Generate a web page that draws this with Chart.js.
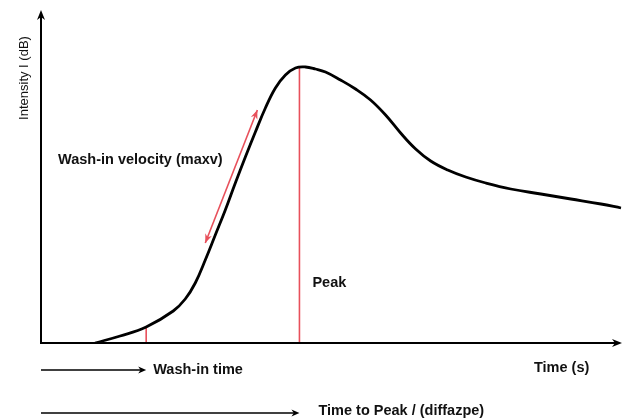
<!DOCTYPE html>
<html>
<head>
<meta charset="utf-8">
<script src="https://cdn.jsdelivr.net/npm/chart.js@4/dist/chart.umd.min.js"></script>
<style>
  html, body { margin: 0; padding: 0; background: #fff; }
  #wrap { width: 623px; height: 420px; }
</style>
</head>
<body>
<div id="wrap"><canvas id="curveChart"></canvas></div>
<script>
  // time-intensity curve (time in s, intensity in dB)
  const curveTime = [5.4, 7.9, 10.5, 13.2, 14.4, 15.4, 16.4, 17.4, 18.4, 19.4, 20.4, 21.4, 22.4, 23.4, 24.4, 25.4, 26.4, 27.4, 28.4, 29.9, 31.4, 32.9, 34.4, 35.9, 37.4, 38.9, 40.6, 42.4, 44.4, 46.9, 49.9, 52.9, 55.9, 57.9];
  const curveIntensity = [0, 0.7, 1.6, 3.2, 4.4, 6.0, 8.3, 10.8, 13.3, 16.0, 18.6, 21.1, 23.5, 25.5, 26.8, 27.5, 27.6, 27.4, 27.1, 26.3, 25.4, 24.3, 22.8, 21.0, 19.4, 18.2, 17.3, 16.6, 16.0, 15.4, 14.9, 14.4, 13.9, 13.5];

  const washInTime = 10.5;
  const washInIntensity = 1.6;
  const peakTime = 25.8;
  const peakIntensity = 27.6;
  const velocityTime = [16.4, 21.6];
  const velocityIntensity = [10.0, 23.3];

  const timeMax = 58;
  const intensityMax = 33.3;

  const RED = '#e8505b';
  const FONT = '"Liberation Sans", Arial, sans-serif';

  function pts(xs, ys) {
    return xs.map((x, i) => ({ x: x, y: ys[i] }));
  }

  function arrowHead(ctx, x1, y1, x2, y2, len, half, color) {
    const a = Math.atan2(y2 - y1, x2 - x1);
    ctx.save();
    ctx.fillStyle = color;
    ctx.translate(x2, y2);
    ctx.rotate(a);
    ctx.beginPath();
    ctx.moveTo(0, 0);
    ctx.lineTo(-len, -half);
    ctx.lineTo(-len * 0.7, 0);
    ctx.lineTo(-len, half);
    ctx.closePath();
    ctx.fill();
    ctx.restore();
  }

  function line(ctx, x1, y1, x2, y2, w, color) {
    ctx.save();
    ctx.strokeStyle = color;
    ctx.lineWidth = w;
    ctx.beginPath();
    ctx.moveTo(x1, y1);
    ctx.lineTo(x2, y2);
    ctx.stroke();
    ctx.restore();
  }

  const decorations = {
    id: 'decorations',
    afterDatasetsDraw(chart) {
      const ctx = chart.ctx;
      const xs = chart.scales.x;
      const ys = chart.scales.y;
      const x0 = xs.getPixelForValue(0);
      const y0 = ys.getPixelForValue(0);
      const xEnd = xs.getPixelForValue(timeMax);
      const yTop = ys.getPixelForValue(intensityMax);

      // axes with arrow heads
      line(ctx, x0, y0, x0, yTop + 4, 2, '#000');
      arrowHead(ctx, x0, y0, x0, yTop, 10, 4, '#000');
      line(ctx, x0 - 1, y0, xEnd - 4, y0, 2, '#000');
      arrowHead(ctx, x0, y0, xEnd, y0, 10, 4, '#000');

      // velocity double arrow
      const vx1 = xs.getPixelForValue(velocityTime[0]);
      const vy1 = ys.getPixelForValue(velocityIntensity[0]);
      const vx2 = xs.getPixelForValue(velocityTime[1]);
      const vy2 = ys.getPixelForValue(velocityIntensity[1]);
      arrowHead(ctx, vx1, vy1, vx2, vy2, 9, 3.5, RED);
      arrowHead(ctx, vx2, vy2, vx1, vy1, 9, 3.5, RED);

      // time arrows below the axis
      const wx = xs.getPixelForValue(washInTime);
      const px = xs.getPixelForValue(peakTime);
      const ay1 = y0 + 27;
      const ay2 = y0 + 70;
      line(ctx, x0, ay1, wx - 4, ay1, 1.5, '#000');
      arrowHead(ctx, x0, ay1, wx, ay1, 8, 3.5, '#000');
      line(ctx, x0, ay2, px - 4, ay2, 1.5, '#000');
      arrowHead(ctx, x0, ay2, px, ay2, 8, 3.5, '#000');

      ctx.save();
      ctx.fillStyle = '#111';
      ctx.textBaseline = 'middle';
      ctx.font = 'bold 14.5px ' + FONT;
      ctx.textAlign = 'left';
      ctx.fillText('Wash-in time', wx + 7, ay1);
      ctx.fillText('Time to Peak / (diffazpe)', px + 19, ay2 - 2);
      ctx.fillText('Time (s)', 534, y0 + 25);
      ctx.fillText('Wash-in velocity (maxv)', 58, 160);
      ctx.fillText('Peak', px + 13, 283);

      ctx.font = '13px ' + FONT;
      ctx.translate(24, 78);
      ctx.rotate(-Math.PI / 2);
      ctx.textAlign = 'center';
      ctx.fillText('Intensity I (dB)', 0, 0);
      ctx.restore();
    }
  };

  new Chart(document.getElementById('curveChart'), {
    type: 'scatter',
    data: {
      datasets: [
        {
          label: 'Curve',
          data: pts(curveTime, curveIntensity),
          showLine: true,
          borderColor: '#000',
          borderWidth: 2.8,
          pointRadius: 0,
          tension: 0.4,
          order: 1
        },
        {
          label: 'Peak',
          data: pts([peakTime, peakTime], [0, peakIntensity]),
          showLine: true,
          borderColor: RED,
          borderWidth: 1.6,
          pointRadius: 0,
          order: 2
        },
        {
          label: 'Wash-in',
          data: pts([washInTime, washInTime], [0, washInIntensity]),
          showLine: true,
          borderColor: RED,
          borderWidth: 1.6,
          pointRadius: 0,
          order: 2
        },
        {
          label: 'Velocity',
          data: pts(velocityTime, velocityIntensity),
          showLine: true,
          borderColor: RED,
          borderWidth: 1.6,
          pointRadius: 0,
          order: 2
        }
      ]
    },
    options: {
      responsive: true,
      maintainAspectRatio: false,
      animation: false,
      layout: { padding: { left: 41, right: 1, top: 10, bottom: 77 } },
      plugins: { legend: { display: false }, tooltip: { enabled: false } },
      scales: {
        x: { type: 'linear', min: 0, max: timeMax, display: false },
        y: { type: 'linear', min: 0, max: intensityMax, display: false }
      }
    },
    plugins: [decorations]
  });
</script>
</body>
</html>
